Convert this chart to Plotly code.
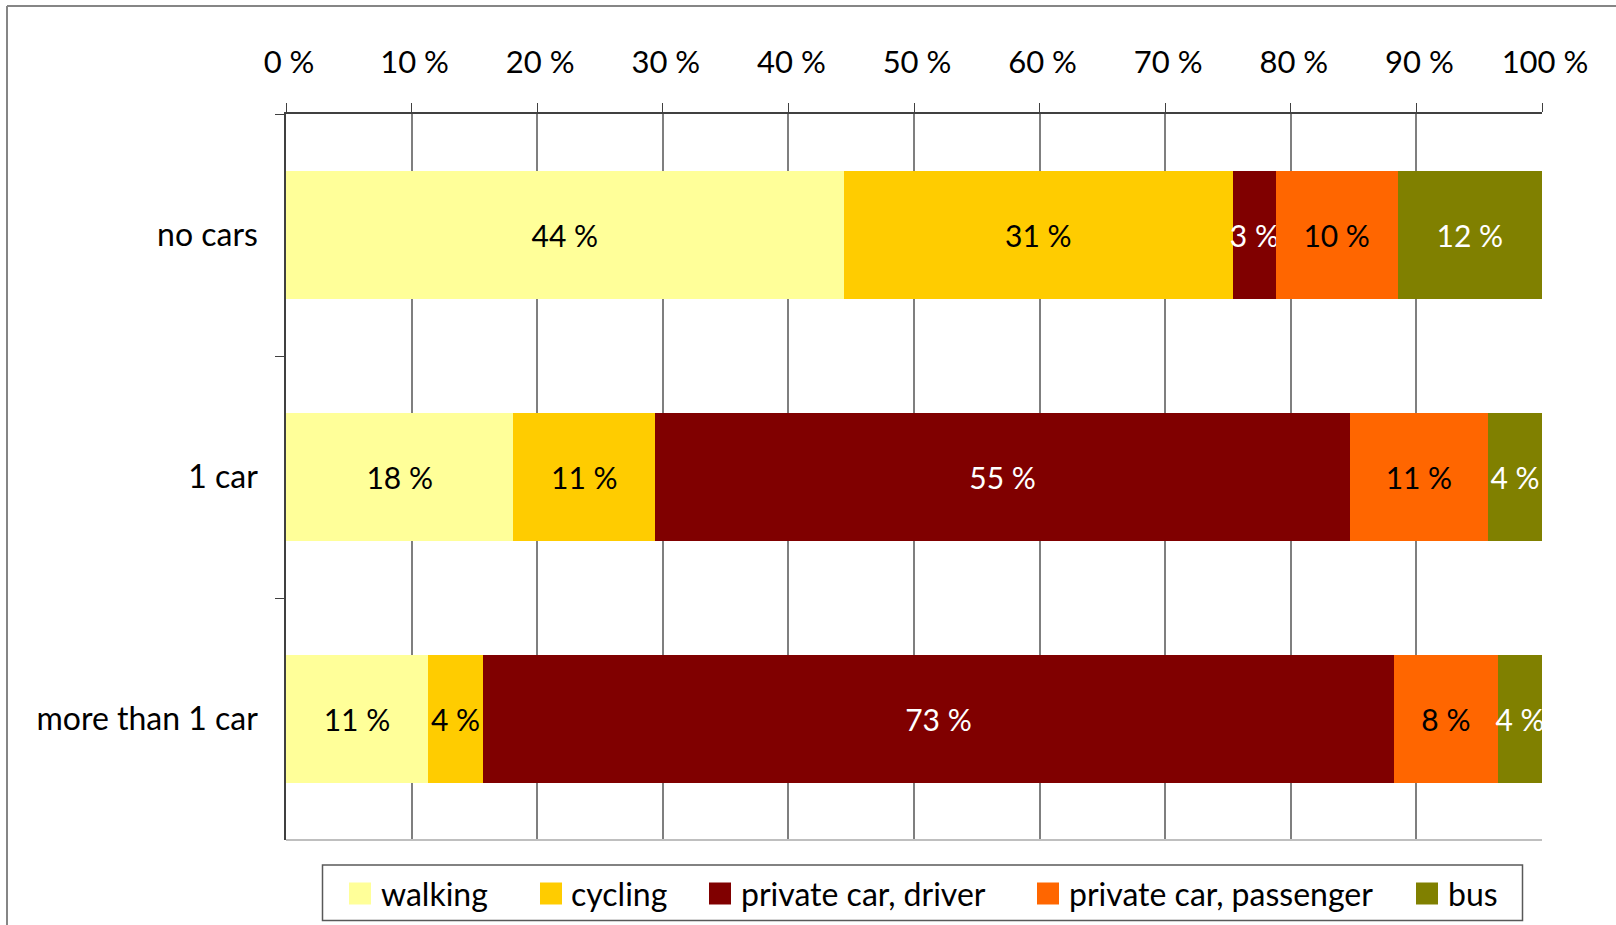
import plotly.graph_objects as go

# data
categories = ["no cars", "1 car", "more than 1 car"]
modes = ["walking", "cycling", "private car, driver", "private car, passenger", "bus"]
walking = [44.4, 18.1, 11.3]
cycling = [31.0, 11.3, 4.4]
car_driver = [3.4, 55.3, 72.5]
car_passenger = [9.7, 11.0, 8.3]
bus = [11.5, 4.3, 3.5]
tick_values = [0, 10, 20, 30, 40, 50, 60, 70, 80, 90, 100]

series = [walking, cycling, car_driver, car_passenger, bus]
colors = ["#FFFF99", "#FFCC00", "#800000", "#FF6600", "#808000"]
text_colors = ["black", "black", "white", "black", "white"]

FONT = "Lato, Open Sans, sans-serif"
W, H = 1616, 925
ML, MR, MT, MB = 286, 74, 114, 85
pw = W - ML - MR
ph = H - MT - MB


def px(x):
    return (x - ML) / pw


def py(y):
    return (H - MB - y) / ph


fig = go.Figure()

for name, vals, col, tcol in zip(modes, series, colors, text_colors):
    fig.add_trace(go.Bar(
        y=categories, x=vals, name=name, orientation="h",
        marker=dict(color=col, line=dict(width=0)),
        texttemplate="%{x:.0f} %", textposition="inside", textangle=0,
        insidetextanchor="middle", constraintext="none",
        insidetextfont=dict(color=tcol, size=30, family=FONT),
        showlegend=False,
    ))

fig.update_layout(
    width=W, height=H,
    margin=dict(l=ML, r=MR, t=MT, b=MB),
    paper_bgcolor="white", plot_bgcolor="white",
    barmode="stack", bargap=0.475,
    font=dict(family=FONT, size=30, color="black"),
    showlegend=False,
    xaxis=dict(
        side="top", range=[0, 100], tickvals=tick_values,
        ticktext=[f"{v} %" for v in tick_values],
        showgrid=True, gridcolor="#7f7f7f", gridwidth=1.5,
        showline=True, linecolor="#404040", linewidth=1.5,
        ticks="outside", ticklen=9, tickcolor="#404040",
        ticklabelstandoff=18, ticklabelshift=3,
        zeroline=False, fixedrange=True,
        tickfont=dict(size=31),
    ),
    yaxis=dict(
        categoryorder="array", categoryarray=categories,
        autorange="reversed", showgrid=False,
        showline=True, linecolor="#404040", linewidth=1.5,
        ticks="outside", ticklen=9, tickcolor="#404040",
        tickson="boundaries", ticklabelstandoff=20,
        tickfont=dict(size=32),
    ),
)

# bottom axis line (light grey) and outer chart frame
fig.add_shape(type="line", xref="paper", yref="paper",
              x0=0, x1=1, y0=0, y1=0, line=dict(color="#bfbfbf", width=2))
fig.add_shape(type="line", xref="paper", yref="paper",
              x0=px(7), x1=px(7), y0=py(935), y1=py(6),
              line=dict(color="#868686", width=2))
fig.add_shape(type="line", xref="paper", yref="paper",
              x0=px(7), x1=px(W + 10), y0=py(6), y1=py(6),
              line=dict(color="#868686", width=2))

# legend drawn by hand so the swatches and spacing match
fig.add_shape(type="rect", xref="paper", yref="paper",
              x0=px(322.5), x1=px(1522.5), y0=py(920.5), y1=py(865),
              line=dict(color="#595959", width=1.5), fillcolor="white")
swatch_x = [349, 540, 709, 1037, 1416]
label_x = [379, 569, 739, 1067, 1446]
for name, col, sx, lx in zip(modes, colors, swatch_x, label_x):
    fig.add_shape(type="rect", xref="paper", yref="paper",
                  x0=px(sx), x1=px(sx + 22), y0=py(904.5), y1=py(882.5),
                  line=dict(width=0), fillcolor=col)
    fig.add_annotation(text=name, xref="paper", yref="paper",
                       x=px(lx), y=py(893), xanchor="left", yanchor="middle",
                       showarrow=False, font=dict(size=32, color="black"))

fig.write_html("out.html", config={"displayModeBar": False},
               post_script="document.body.style.margin = '0';")
